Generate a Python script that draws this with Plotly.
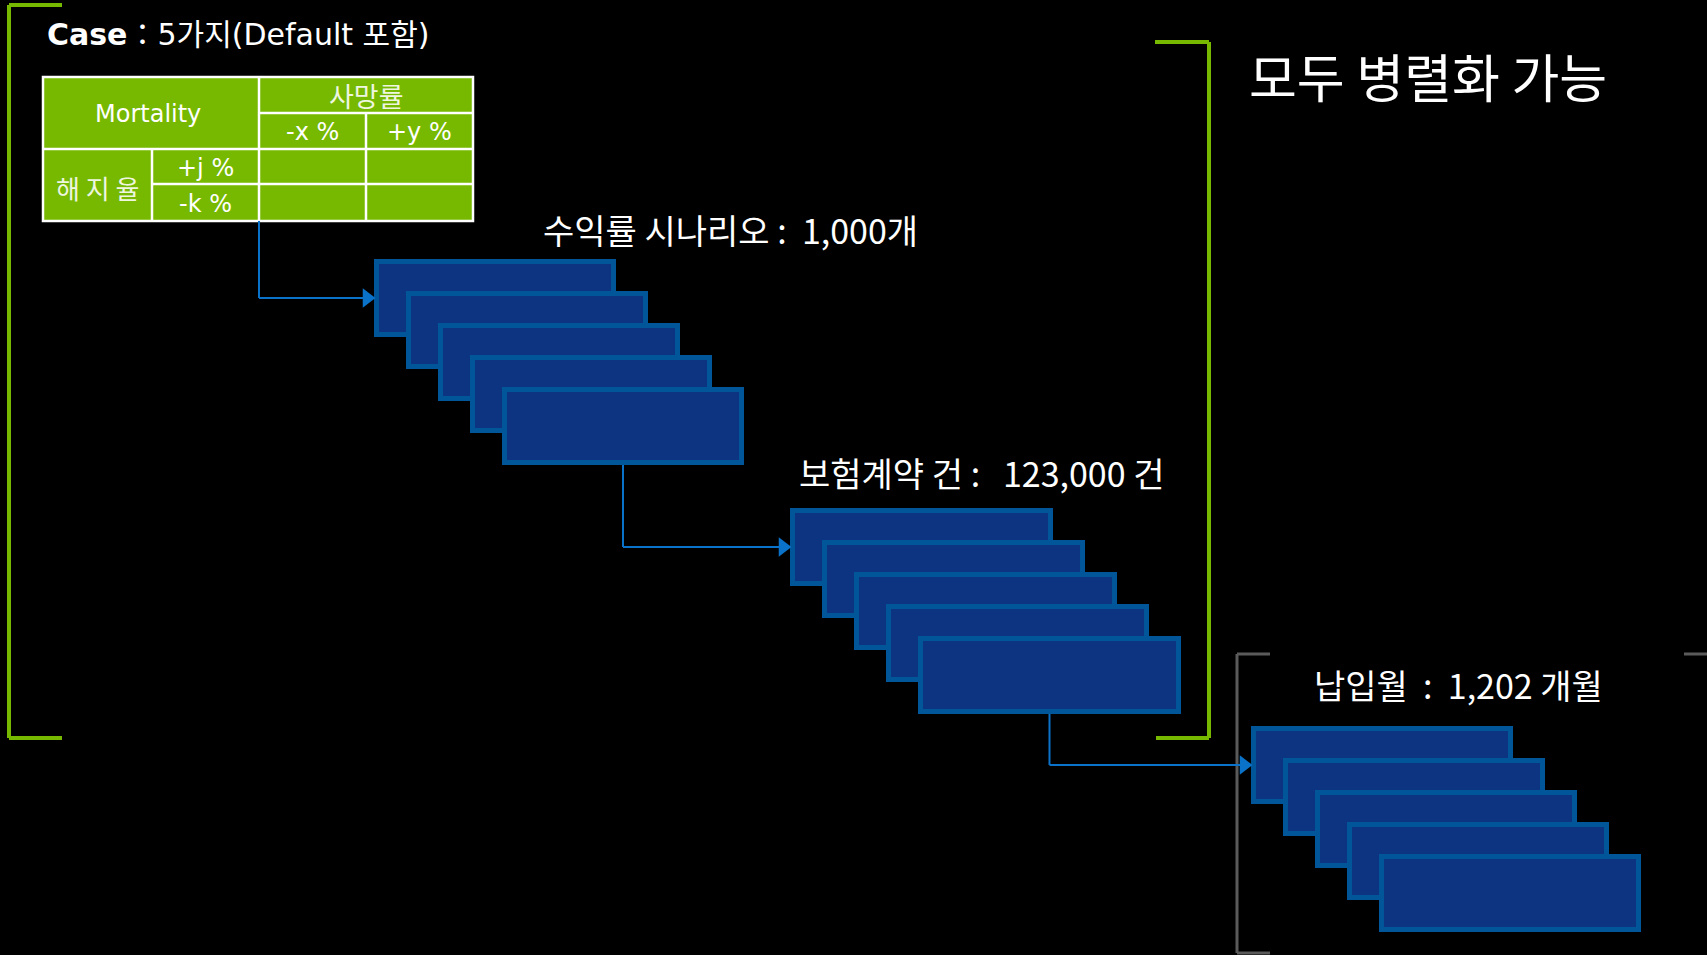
import plotly.graph_objects as go

W, H = 1707, 955

# ---------------- data (text content) ----------------
case_title_bold = "Case"
case_title_rest = "：5가지(Default 포함)"
table_corner = "Mortality"
table_col_group = "사망률"
table_cols = ["-x %", "+y %"]
table_row_group = "해 지 율"
table_rows = ["+j %", "-k %"]
stage_labels = ["수익률 시나리오 :  1,000개", "보험계약 건 :   123,000 건", "납입월  :  1,202 개월"]
cards_per_stage = [5, 5, 5]
parallel_note = "모두 병렬화 가능"

# ---------------- layout constants ----------------
GREEN = "#76b900"
CARD_FILL = "#0d3480"
CARD_LINE = "#005698"
ARROW = "#0a72c8"
GRAY = "#5a5a5a"
KR = "Noto Sans CJK KR"
LAT = "DejaVu Sans, Noto Sans CJK KR"

stage_boxes = [(374, 259, 242, 78), (790, 508, 263, 78), (1251, 726, 262, 78)]
stage_label_pos = [(541, 229), (797, 472), (1312, 684)]
STEP = 32
BW = 5  # card border width

# table geometry
TX0, TX1, TY0, TY1 = 43, 473, 77, 221
col_x = [152, 259, 366]
row_y = [113, 149, 184]

shapes = []
annotations = []


def line(x0, y0, x1, y1, color, width):
    shapes.append(dict(type="line", x0=x0, y0=y0, x1=x1, y1=y1, xref="x", yref="y",
                       line=dict(color=color, width=width), layer="below"))


# green brackets
line(9, 5, 9, 738, GREEN, 4)
line(9, 5, 62, 5, GREEN, 4)
line(9, 738, 62, 738, GREEN, 4)
line(1209, 42, 1209, 738, GREEN, 4)
line(1155, 42, 1209, 42, GREEN, 4)
line(1156, 738, 1209, 738, GREEN, 4)

# gray bracket
line(1237, 654, 1237, 953, GRAY, 3)
line(1237, 654, 1270, 654, GRAY, 3)
line(1237, 953, 1270, 953, GRAY, 3)
line(1684, 654, 1707, 654, GRAY, 3)

# table
shapes.append(dict(type="rect", x0=TX0, y0=TY0, x1=TX1, y1=TY1, fillcolor=GREEN,
                   line=dict(color="white", width=2.5), layer="below"))
line(col_x[1], TY0, col_x[1], TY1, "white", 2.5)
line(col_x[2], row_y[0], col_x[2], TY1, "white", 2.5)
line(col_x[0], row_y[1], col_x[0], TY1, "white", 2.5)
line(col_x[1], row_y[0], TX1, row_y[0], "white", 2.5)
line(TX0, row_y[1], TX1, row_y[1], "white", 2.5)
line(col_x[0], row_y[2], TX1, row_y[2], "white", 2.5)


def text(x, y, s, size, family, color="white", xanchor="center"):
    s = s.replace(" ", "\u00a0")
    annotations.append(dict(x=x, y=y, xref="x", yref="y", text=s, showarrow=False,
                            xanchor=xanchor, yanchor="middle",
                            font=dict(size=size, family=family, color=color)))


PALE = "#eef6e0"
text((TX0 + col_x[1]) / 2 - 3, (TY0 + row_y[1]) / 2 + 1, table_corner, 24, LAT)
text((col_x[1] + TX1) / 2, (TY0 + row_y[0]) / 2, table_col_group, 27, KR, PALE)
text((col_x[1] + col_x[2]) / 2, (row_y[0] + row_y[1]) / 2 + 1, table_cols[0], 24, LAT)
text((col_x[2] + TX1) / 2, (row_y[0] + row_y[1]) / 2 + 1, table_cols[1], 24, LAT)
text((TX0 + col_x[0]) / 2, (row_y[1] + TY1) / 2 + 2, table_row_group, 26, KR, PALE)
text((col_x[0] + col_x[1]) / 2, (row_y[1] + row_y[2]) / 2 + 1, table_rows[0], 24, LAT)
text((col_x[0] + col_x[1]) / 2, (row_y[2] + TY1) / 2 + 1, table_rows[1], 24, LAT)

# case title
annotations.append(dict(x=45, y=34, xref="x", yref="y", showarrow=False, xanchor="left", yanchor="middle",
                        text="<b>" + case_title_bold + "</b>" + case_title_rest.replace(" ", "\u00a0"),
                        font=dict(size=30, family=LAT, color="white")))

# card stacks
for (bx, by, bw, bh), n in zip(stage_boxes, cards_per_stage):
    for i in range(n):
        x0 = bx + i * STEP + BW / 2
        y0 = by + i * STEP + BW / 2
        shapes.append(dict(type="rect", x0=x0, y0=y0, x1=x0 + bw - BW, y1=y0 + bh - BW,
                           fillcolor=CARD_FILL, line=dict(color=CARD_LINE, width=BW), layer="below"))

# connectors
starts = [(col_x[1], TY1)]
for (bx, by, bw, bh), n in zip(stage_boxes[:-1], cards_per_stage[:-1]):
    starts.append((bx + (n - 1) * STEP + bw / 2, by + (n - 1) * STEP + bh))
tips_x, tips_y = [], []
for (sx, sy), (bx, by, bw, bh) in zip(starts, stage_boxes):
    ty = by + bh / 2
    line(sx, sy, sx, ty, ARROW, 2)
    line(sx, ty, bx - 10, ty, ARROW, 2)
    tips_x.append(bx - 7)
    tips_y.append(ty)

# stage labels
for (lx, ly), s in zip(stage_label_pos, stage_labels):
    text(lx, ly, s, 34, KR, xanchor="left")

text(1247, 75, parallel_note, 52, KR, xanchor="left")

fig = go.Figure()
fig.add_trace(go.Scatter(x=tips_x, y=tips_y, mode="markers", hoverinfo="skip",
                         marker=dict(symbol="triangle-right", size=17, color=ARROW, line=dict(width=0))))
fig.update_layout(
    width=W, height=H, margin=dict(l=0, r=0, t=0, b=0),
    paper_bgcolor="black", plot_bgcolor="black", showlegend=False,
    xaxis=dict(range=[0, W], visible=False, fixedrange=True),
    yaxis=dict(range=[H, 0], visible=False, fixedrange=True),
    shapes=shapes, annotations=annotations,
)
fig.write_html("out.html", config={"displayModeBar": False},
               post_script="document.body.style.margin='0';document.body.style.background='black';"
                           "document.body.style.overflow='hidden';")
